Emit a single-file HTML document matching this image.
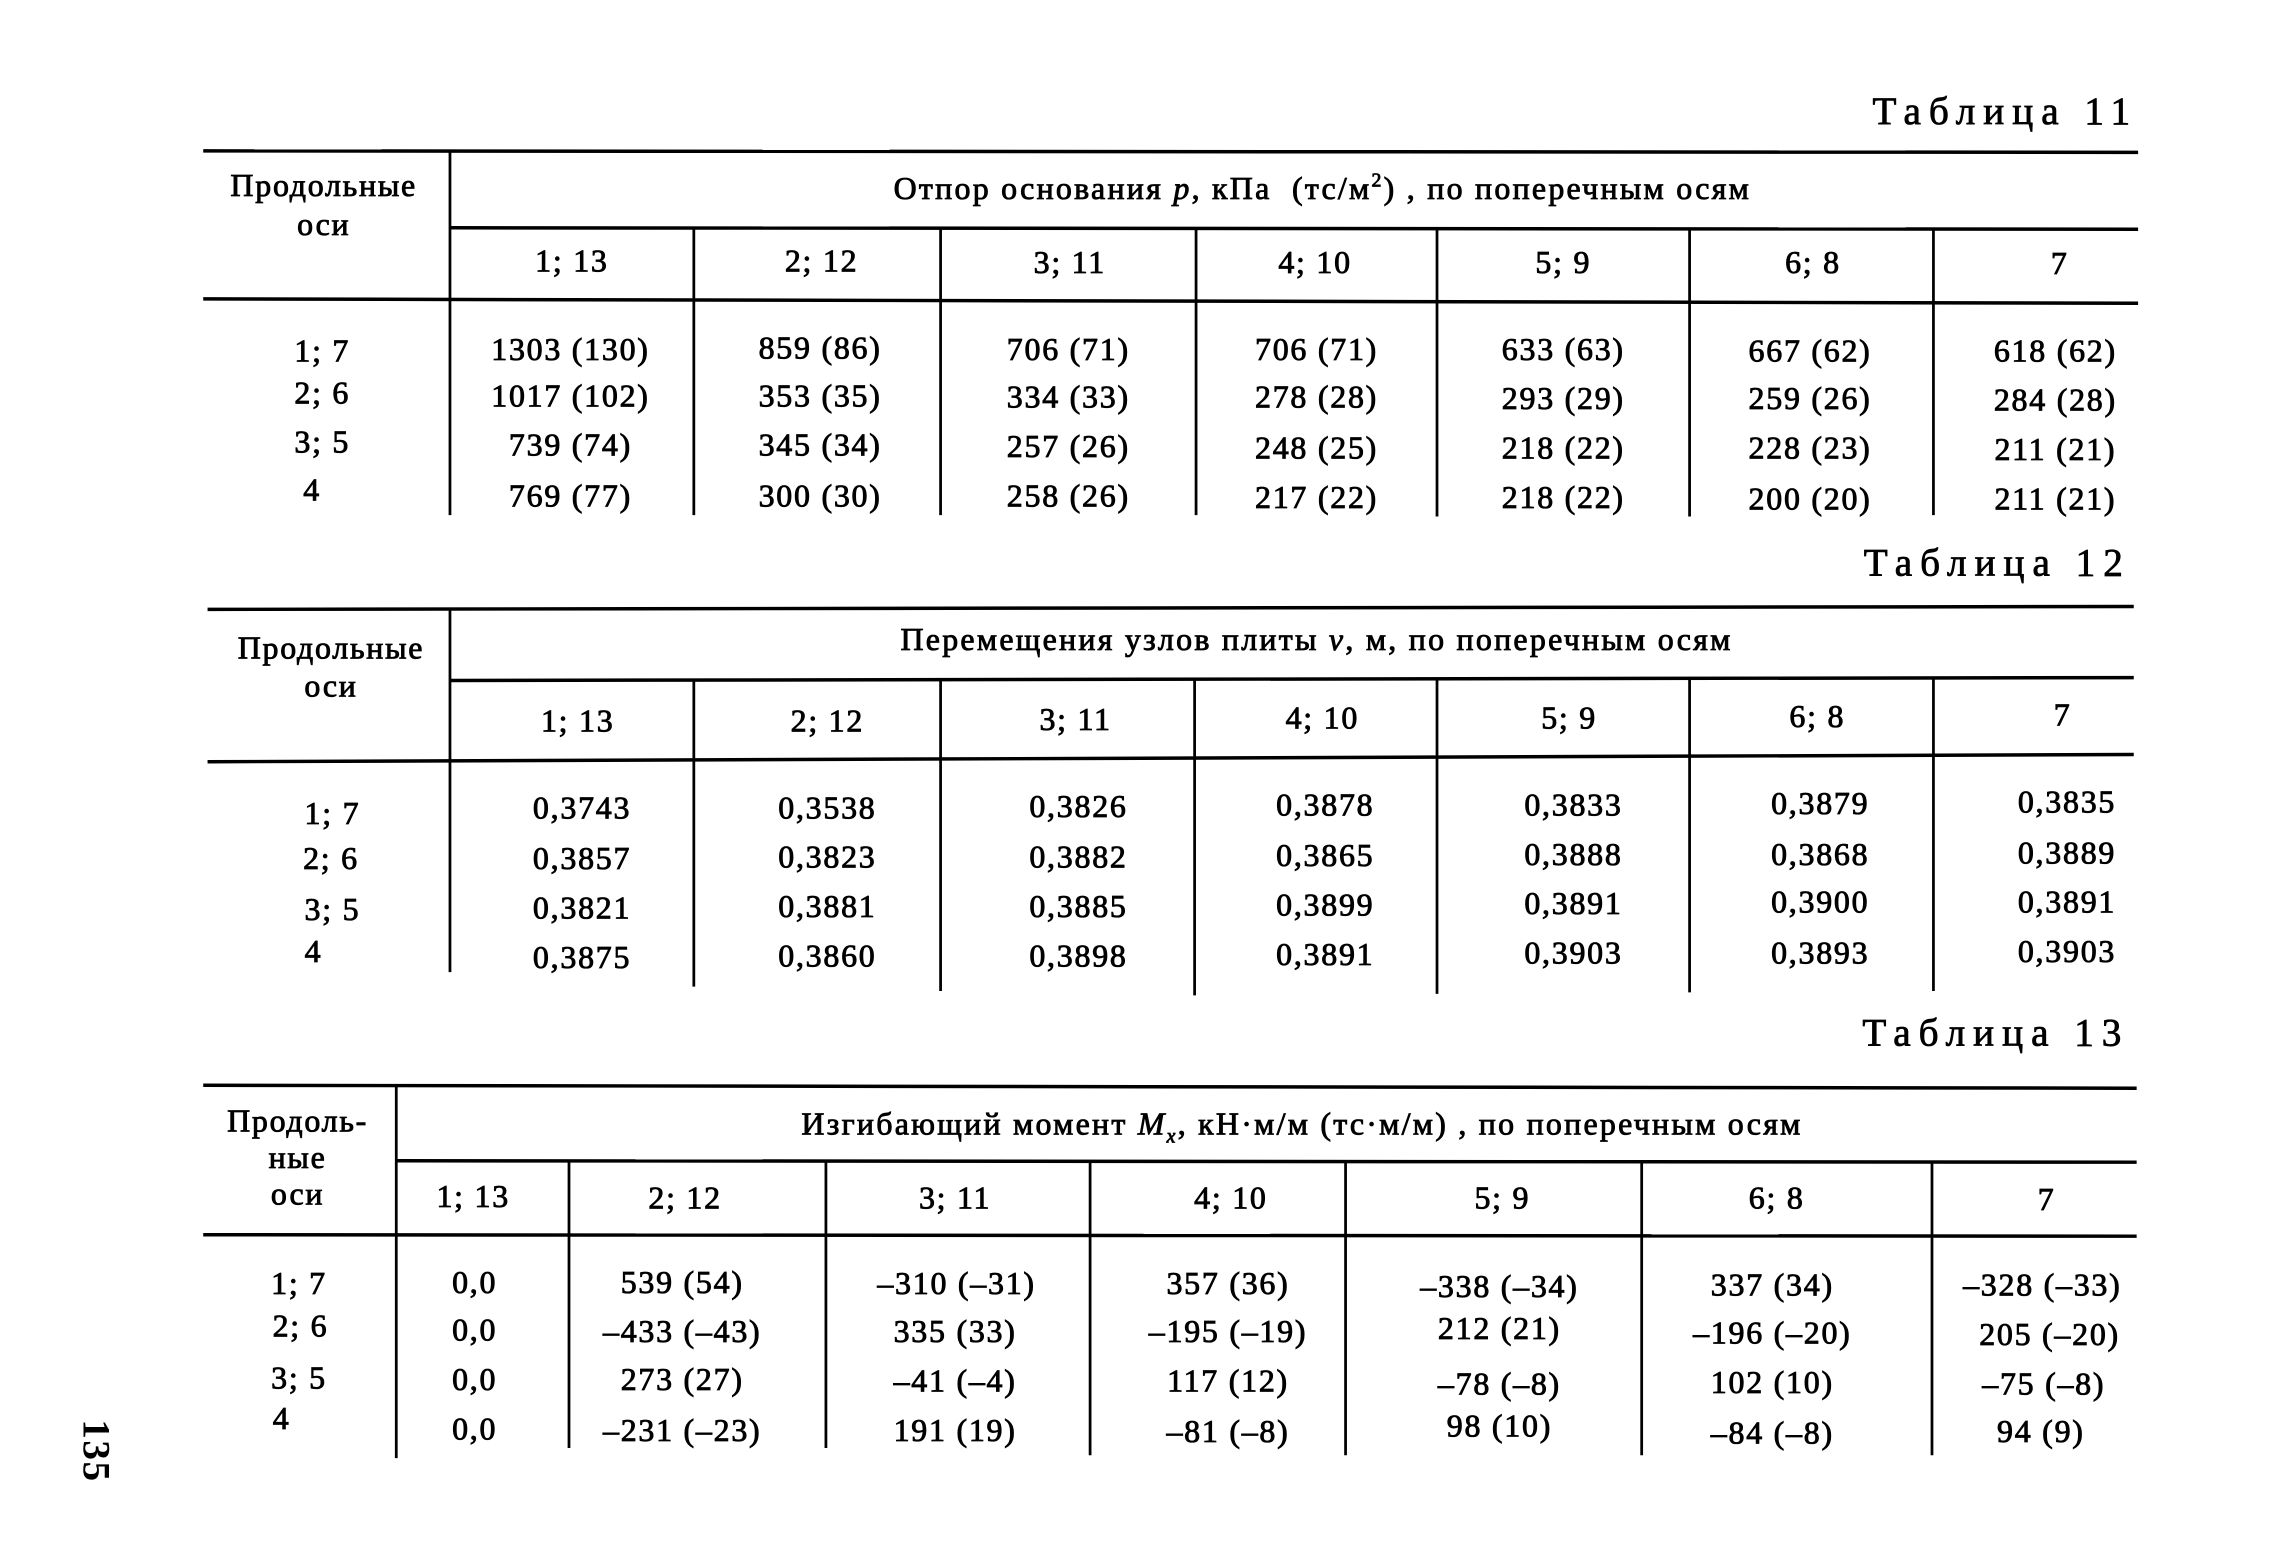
<!DOCTYPE html>
<html>
<head>
<meta charset="utf-8">
<style>
html,body{margin:0;padding:0;background:#fff;}
body{width:2276px;height:1567px;overflow:hidden;position:relative;}
#c{position:absolute;left:0;top:0;width:1568px;height:1080px;transform:scale(1.45153,1.45093);transform-origin:0 0;}
svg{position:absolute;left:0;top:0;}
.t{position:absolute;transform:translate(-50%,-50%);white-space:nowrap;line-height:1;font-family:"Liberation Serif","DejaVu Serif",serif;font-size:22px;letter-spacing:1.2px;color:#000;-webkit-text-stroke:0.6px #000;}
.ti{letter-spacing:1.55px;}
.tb{position:absolute;transform:translate(-100%,-50%);white-space:nowrap;line-height:1;font-family:"Liberation Serif","DejaVu Serif",serif;font-size:27px;letter-spacing:5.5px;color:#000;-webkit-text-stroke:0.55px #000;}
sup,sub{font-size:0.62em;line-height:0;}
.pn{position:absolute;left:66px;top:1000px;transform:translate(-50%,-50%) rotate(90deg);font-family:"Liberation Serif","DejaVu Serif",serif;font-size:27px;font-weight:bold;line-height:1;letter-spacing:1px;}
</style>
</head>
<body>
<div id="c">
<svg width="1568" height="1080" viewBox="0 0 1568 1080" xmlns="http://www.w3.org/2000/svg">
<g stroke="#000" stroke-width="2.4" fill="none">
<line x1="140" y1="104" x2="1473" y2="105"/>
<line x1="310" y1="157" x2="1473" y2="158"/>
<line x1="140" y1="206" x2="1473" y2="209"/>
<line x1="143" y1="420" x2="1470" y2="418"/>
<line x1="310" y1="469" x2="1470" y2="467"/>
<line x1="143" y1="525" x2="1470" y2="520"/>
<line x1="140" y1="748" x2="1472" y2="750"/>
<line x1="273" y1="800" x2="1472" y2="801"/>
<line x1="140" y1="851" x2="1472" y2="852"/>
</g>
<g stroke="#000" stroke-width="1.9" fill="none">
<line x1="310" y1="104" x2="310" y2="355"/>
<line x1="478" y1="157" x2="478" y2="355"/>
<line x1="648" y1="157" x2="648" y2="355"/>
<line x1="824" y1="157" x2="824" y2="355"/>
<line x1="990" y1="157" x2="990" y2="356"/>
<line x1="1164" y1="157" x2="1164" y2="356"/>
<line x1="1332" y1="158" x2="1332" y2="355"/>
<line x1="310" y1="420" x2="310" y2="670"/>
<line x1="478" y1="469" x2="478" y2="680"/>
<line x1="648" y1="469" x2="648" y2="683"/>
<line x1="823" y1="468" x2="823" y2="686"/>
<line x1="990" y1="468" x2="990" y2="685"/>
<line x1="1164" y1="468" x2="1164" y2="684"/>
<line x1="1332" y1="467" x2="1332" y2="683"/>
<line x1="273" y1="748" x2="273" y2="1005"/>
<line x1="392" y1="800" x2="392" y2="998"/>
<line x1="569" y1="800" x2="569" y2="998"/>
<line x1="751" y1="800" x2="751" y2="1003"/>
<line x1="927" y1="800" x2="927" y2="1003"/>
<line x1="1131" y1="800" x2="1131" y2="1003"/>
<line x1="1331" y1="801" x2="1331" y2="1003"/>
</g>
</svg>

<!-- ===== Table 11 ===== -->
<div class="tb" style="left:1473px;top:77px;">Таблица 11</div>
<div class="t" style="left:223px;top:128px;">Продольные</div>
<div class="t" style="left:223px;top:155px;">оси</div>
<div class="t ti" style="left:911px;top:130px;">Отпор основания <i>p</i>, кПа&nbsp;&nbsp;(тс/м<sup>2</sup>)&nbsp;, по поперечным осям</div>
<div class="t" style="left:394px;top:180px;">1; 13</div>
<div class="t" style="left:566px;top:180px;">2; 12</div>
<div class="t" style="left:737px;top:181px;">3; 11</div>
<div class="t" style="left:906px;top:181px;">4; 10</div>
<div class="t" style="left:1077px;top:181px;">5; 9</div>
<div class="t" style="left:1249px;top:181px;">6; 8</div>
<div class="t" style="left:1419px;top:182px;">7</div>

<div class="t" style="left:222px;top:242px;">1; 7</div>
<div class="t" style="left:222px;top:271px;">2; 6</div>
<div class="t" style="left:222px;top:305px;">3; 5</div>
<div class="t" style="left:215px;top:338px;">4</div>

<div class="t" style="left:393px;top:241px;">1303 (130)</div>
<div class="t" style="left:565px;top:240px;">859 (86)</div>
<div class="t" style="left:736px;top:241px;">706 (71)</div>
<div class="t" style="left:907px;top:241px;">706 (71)</div>
<div class="t" style="left:1077px;top:241px;">633 (63)</div>
<div class="t" style="left:1247px;top:242px;">667 (62)</div>
<div class="t" style="left:1416px;top:242px;">618 (62)</div>

<div class="t" style="left:393px;top:273px;">1017 (102)</div>
<div class="t" style="left:565px;top:273px;">353 (35)</div>
<div class="t" style="left:736px;top:274px;">334 (33)</div>
<div class="t" style="left:907px;top:274px;">278 (28)</div>
<div class="t" style="left:1077px;top:275px;">293 (29)</div>
<div class="t" style="left:1247px;top:275px;">259 (26)</div>
<div class="t" style="left:1416px;top:276px;">284 (28)</div>

<div class="t" style="left:393px;top:307px;">739 (74)</div>
<div class="t" style="left:565px;top:307px;">345 (34)</div>
<div class="t" style="left:736px;top:308px;">257 (26)</div>
<div class="t" style="left:907px;top:309px;">248 (25)</div>
<div class="t" style="left:1077px;top:309px;">218 (22)</div>
<div class="t" style="left:1247px;top:309px;">228 (23)</div>
<div class="t" style="left:1416px;top:310px;">211 (21)</div>

<div class="t" style="left:393px;top:342px;">769 (77)</div>
<div class="t" style="left:565px;top:342px;">300 (30)</div>
<div class="t" style="left:736px;top:342px;">258 (26)</div>
<div class="t" style="left:907px;top:343px;">217 (22)</div>
<div class="t" style="left:1077px;top:343px;">218 (22)</div>
<div class="t" style="left:1247px;top:344px;">200 (20)</div>
<div class="t" style="left:1416px;top:344px;">211 (21)</div>

<!-- ===== Table 12 ===== -->
<div class="tb" style="left:1468px;top:388px;">Таблица 12</div>
<div class="t" style="left:228px;top:447px;">Продольные</div>
<div class="t" style="left:228px;top:473px;">оси</div>
<div class="t ti" style="left:907px;top:441px;">Перемещения узлов плиты <i>v</i>, м, по поперечным осям</div>
<div class="t" style="left:398px;top:497px;">1; 13</div>
<div class="t" style="left:570px;top:497px;">2; 12</div>
<div class="t" style="left:741px;top:496px;">3; 11</div>
<div class="t" style="left:911px;top:495px;">4; 10</div>
<div class="t" style="left:1081px;top:495px;">5; 9</div>
<div class="t" style="left:1252px;top:494px;">6; 8</div>
<div class="t" style="left:1421px;top:493px;">7</div>

<div class="t" style="left:229px;top:561px;">1; 7</div>
<div class="t" style="left:228px;top:592px;">2; 6</div>
<div class="t" style="left:229px;top:627px;">3; 5</div>
<div class="t" style="left:216px;top:656px;">4</div>

<div class="t" style="left:401px;top:557px;">0,3743</div>
<div class="t" style="left:570px;top:557px;">0,3538</div>
<div class="t" style="left:743px;top:556px;">0,3826</div>
<div class="t" style="left:913px;top:555px;">0,3878</div>
<div class="t" style="left:1084px;top:555px;">0,3833</div>
<div class="t" style="left:1254px;top:554px;">0,3879</div>
<div class="t" style="left:1424px;top:553px;">0,3835</div>

<div class="t" style="left:401px;top:592px;">0,3857</div>
<div class="t" style="left:570px;top:591px;">0,3823</div>
<div class="t" style="left:743px;top:591px;">0,3882</div>
<div class="t" style="left:913px;top:590px;">0,3865</div>
<div class="t" style="left:1084px;top:589px;">0,3888</div>
<div class="t" style="left:1254px;top:589px;">0,3868</div>
<div class="t" style="left:1424px;top:588px;">0,3889</div>

<div class="t" style="left:401px;top:626px;">0,3821</div>
<div class="t" style="left:570px;top:625px;">0,3881</div>
<div class="t" style="left:743px;top:625px;">0,3885</div>
<div class="t" style="left:913px;top:624px;">0,3899</div>
<div class="t" style="left:1084px;top:623px;">0,3891</div>
<div class="t" style="left:1254px;top:622px;">0,3900</div>
<div class="t" style="left:1424px;top:622px;">0,3891</div>

<div class="t" style="left:401px;top:660px;">0,3875</div>
<div class="t" style="left:570px;top:659px;">0,3860</div>
<div class="t" style="left:743px;top:659px;">0,3898</div>
<div class="t" style="left:913px;top:658px;">0,3891</div>
<div class="t" style="left:1084px;top:657px;">0,3903</div>
<div class="t" style="left:1254px;top:657px;">0,3893</div>
<div class="t" style="left:1424px;top:656px;">0,3903</div>

<!-- ===== Table 13 ===== -->
<div class="tb" style="left:1467px;top:712px;">Таблица 13</div>
<div class="t" style="left:205px;top:773px;">Продоль-</div>
<div class="t" style="left:205px;top:798px;">ные</div>
<div class="t" style="left:205px;top:823px;">оси</div>
<div class="t ti" style="left:897px;top:775px;">Изгибающий момент <i>M<sub>x</sub></i>, кН·м/м (тс·м/м)&nbsp;, по поперечным осям</div>
<div class="t" style="left:326px;top:825px;">1; 13</div>
<div class="t" style="left:472px;top:826px;">2; 12</div>
<div class="t" style="left:658px;top:826px;">3; 11</div>
<div class="t" style="left:848px;top:826px;">4; 10</div>
<div class="t" style="left:1035px;top:826px;">5; 9</div>
<div class="t" style="left:1224px;top:826px;">6; 8</div>
<div class="t" style="left:1410px;top:827px;">7</div>

<div class="t" style="left:206px;top:885px;">1; 7</div>
<div class="t" style="left:207px;top:914px;">2; 6</div>
<div class="t" style="left:206px;top:950px;">3; 5</div>
<div class="t" style="left:194px;top:978px;">4</div>

<div class="t" style="left:327px;top:884px;">0,0</div>
<div class="t" style="left:470px;top:884px;">539 (54)</div>
<div class="t" style="left:659px;top:885px;">–310 (–31)</div>
<div class="t" style="left:846px;top:885px;">357 (36)</div>
<div class="t" style="left:1033px;top:887px;">–338 (–34)</div>
<div class="t" style="left:1221px;top:886px;">337 (34)</div>
<div class="t" style="left:1407px;top:886px;">–328 (–33)</div>

<div class="t" style="left:327px;top:917px;">0,0</div>
<div class="t" style="left:470px;top:918px;">–433 (–43)</div>
<div class="t" style="left:658px;top:918px;">335 (33)</div>
<div class="t" style="left:846px;top:918px;">–195 (–19)</div>
<div class="t" style="left:1033px;top:916px;">212 (21)</div>
<div class="t" style="left:1221px;top:919px;">–196 (–20)</div>
<div class="t" style="left:1412px;top:920px;">205 (–20)</div>

<div class="t" style="left:327px;top:951px;">0,0</div>
<div class="t" style="left:470px;top:951px;">273 (27)</div>
<div class="t" style="left:658px;top:952px;">–41 (–4)</div>
<div class="t" style="left:846px;top:952px;">117 (12)</div>
<div class="t" style="left:1033px;top:954px;">–78 (–8)</div>
<div class="t" style="left:1221px;top:953px;">102 (10)</div>
<div class="t" style="left:1408px;top:954px;">–75 (–8)</div>

<div class="t" style="left:327px;top:985px;">0,0</div>
<div class="t" style="left:470px;top:986px;">–231 (–23)</div>
<div class="t" style="left:658px;top:986px;">191 (19)</div>
<div class="t" style="left:846px;top:987px;">–81 (–8)</div>
<div class="t" style="left:1033px;top:983px;">98 (10)</div>
<div class="t" style="left:1221px;top:988px;">–84 (–8)</div>
<div class="t" style="left:1406px;top:987px;">94 (9)</div>

<div class="pn">135</div>
</div>
</body>
</html>
